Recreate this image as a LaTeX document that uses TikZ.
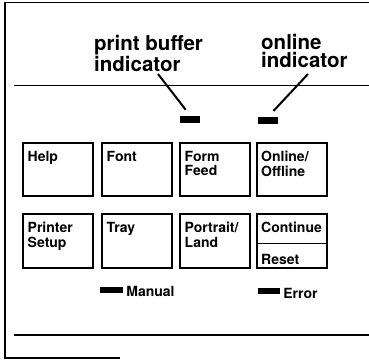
\documentclass[tikz,border=0pt]{standalone}
\usepackage{fontspec}
\setmainfont{TeX Gyre Heros}
\usepackage{tikz}
\usetikzlibrary{calc}
\tikzset{
    key/.style={draw, line width=2pt, minimum width=70pt, minimum height=53pt, inner sep=0pt},
    keytext/.style={anchor=north west, inner sep=0pt, align=left, font=\bfseries\fontsize{14}{14.5}\selectfont},
    callout/.style={anchor=north west, inner sep=0pt, align=left, font=\bfseries\fontsize{20.5}{18.5}\selectfont},
    led/.style={fill=black, inner sep=0pt, minimum width=20pt, minimum height=7pt},
    leader/.style={line width=2pt},
    panel/.style={line width=1.4pt}
}

\begin{document}
\begin{tikzpicture}[x=1pt,y=-1pt]
    \useasboundingbox (0,0) rectangle (369,360);

    % Draw panel outline
    \draw[panel] (369,2.5) -- (5,2.5) -- (5,358) -- (120,358);
    \draw[line width=1pt] (14,85) -- (369,85);
    \draw[line width=2pt] (14,335) -- (369,335);

    % Indicator lamps
    \node[led] (pbled) at (190,119) {};
    \node[led] (onled) at (268,120.5) {};
    \node[led, minimum width=23pt, minimum height=6pt] (manled) at (111.5,290) {};
    \node[led, minimum width=22pt, minimum height=6pt] (errled) at (269,291) {};

    % Callouts
    \node[callout] (pblabel) at (94,35) {print buffer\\indicator};
    \node[callout] (onlabel) at (261,34) {online\\indicator};
    \coordinate (pbtail) at (158,74);
    \coordinate (ontail) at (308,74);
    \draw[leader, shorten >=7pt] (pbtail) -- (pbled.north);
    \draw[leader, shorten >=8pt] (ontail) -- (onled.north);

    % First row of keys
    \node[key] (help) at (57.5,169.5) {};
    \node[key] (font) at (136.5,169.5) {};
    \node[key] (formfeed) at (214.5,169.5) {};
    \node[key] (online) at (292,169.5) {};
    \node[keytext] at ($(help.north west)+(6,9)$) {Help};
    \node[keytext] at ($(font.north west)+(6,9)$) {Font};
    \node[keytext] at ($(formfeed.north west)+(6,9)$) {Form\\Feed};
    \node[keytext] at ($(online.north west)+(5,9)$) {Online/\\Offline};

    % Second row of keys
    \node[key, minimum height=54pt] (setup) at (57.5,241) {};
    \node[key, minimum height=54pt] (tray) at (136.5,241) {};
    \node[key, minimum height=54pt] (portrait) at (214.5,241) {};
    \node[key, minimum height=54pt] (continue) at (292,241) {};
    \draw[line width=1pt] ($(continue.west)+(0,2)$) -- ($(continue.east)+(0,2)$);
    \node[keytext] at ($(setup.north west)+(6,9)$) {Printer\\Setup};
    \node[keytext] at ($(tray.north west)+(6,9)$) {Tray};
    \node[keytext] at ($(portrait.north west)+(6,9)$) {Portrait/\\Land};
    \node[keytext] at ($(continue.north west)+(5,9)$) {Continue};
    \node[keytext] at ($(continue.south west)+(5,-15)$) {Reset};

    % Lamp labels
    \node[keytext, anchor=west] at ($(manled.east)+(3,1.5)$) {Manual};
    \node[keytext, anchor=west] at ($(errled.east)+(3,2)$) {Error};
\end{tikzpicture}
\end{document}
